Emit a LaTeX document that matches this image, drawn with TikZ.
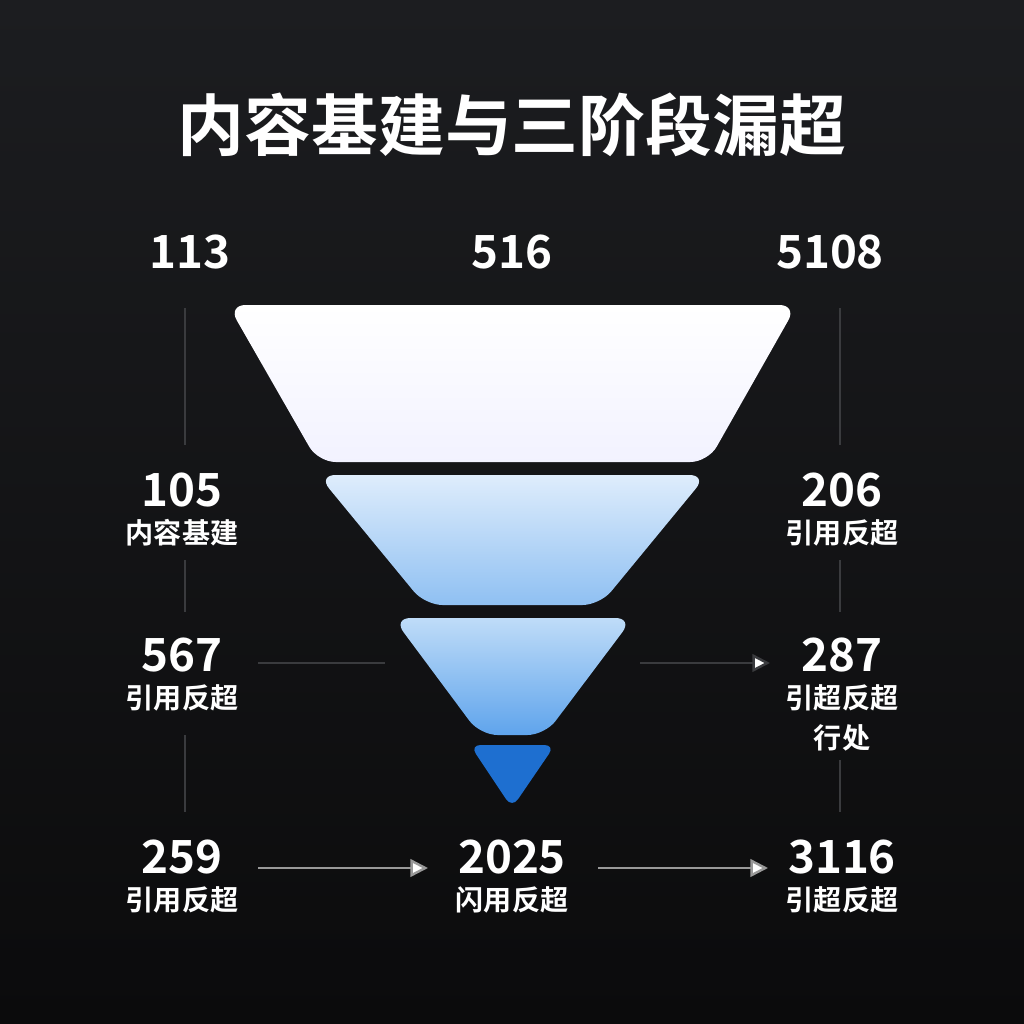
\documentclass[tikz,border=0pt]{standalone}
\usepackage{fontspec}
\setmainfont{Noto Sans CJK SC}[BoldFont={* Bold}]
\usetikzlibrary{arrows.meta}
\definecolor{bgA}{HTML}{1C1D20}
\definecolor{bgB}{HTML}{0B0B0C}
\definecolor{lineC}{HTML}{3A3B3E}
\definecolor{bl1}{HTML}{D6E8FB}
\definecolor{bl2}{HTML}{8FC0F2}
\definecolor{bl3}{HTML}{BFDCF8}
\definecolor{bl4}{HTML}{5FA4EC}
\definecolor{bl5}{HTML}{1E6FD0}
\begin{document}
\begin{tikzpicture}[x=0.01cm,y=-0.01cm,
  num/.style={text=white,font=\bfseries\fontsize{13}{14}\selectfont,inner sep=0},
  lab/.style={text=white,font=\bfseries\fontsize{8}{9}\selectfont,inner sep=0},
  vline/.style={draw=lineC,line width=0.6pt},
  arr/.style={draw=gray!80,line width=0.7pt,-{Triangle[length=5pt,width=5pt,fill=white]}},
  layer/.style={rounded corners=5pt}]
\path[top color=bgA,bottom color=bgB] (0,0) rectangle (1024,1024);
\useasboundingbox (0,0) rectangle (1024,1024);
\node[text=white,font=\bfseries\fontsize{19}{21}\selectfont] (title) at (512,125) {内容基建与三阶段漏超};
\node[num] (n1) at (190,252) {113};
\node[num] (n2) at (512,252) {516};
\node[num] (n3) at (830,252) {5108};
% funnel
\shade[layer,top color=white,bottom color=white!95!blue] (228,305) -- (797,305) -- (708,462) -- (318,462) -- cycle;
\shade[layer,top color=bl1!80!white,bottom color=bl2] (318,475) -- (707,475) -- (600,605) -- (425,605) -- cycle;
\shade[layer,top color=bl3,bottom color=bl4] (393,618) -- (633,618) -- (545,735) -- (480,735) -- cycle;
\fill[rounded corners=3pt,bl5] (470,745) -- (555,745) -- (512,808) -- cycle;
% vertical lines
\coordinate (l1a) at (185,308); \coordinate (l1b) at (185,445);
\coordinate (l2a) at (185,560); \coordinate (l2b) at (185,612);
\coordinate (l3a) at (185,735); \coordinate (l3b) at (185,812);
\coordinate (r1a) at (840,308); \coordinate (r1b) at (840,445);
\coordinate (r2a) at (840,560); \coordinate (r2b) at (840,612);
\coordinate (r3a) at (840,760); \coordinate (r3b) at (840,812);
\foreach \a/\b in {l1a/l1b,l2a/l2b,l3a/l3b,r1a/r1b,r2a/r2b,r3a/r3b} \draw[vline] (\a)--(\b);
% labels
\node[num] (a1) at (182,490) {105}; \node[lab] (b1) at (182,533) {内容基建};
\node[num] (a2) at (182,655) {567}; \node[lab] (b2) at (182,698) {引用反超};
\node[num] (a3) at (182,857) {259}; \node[lab] (b3) at (182,900) {引用反超};
\node[num] (c1) at (842,490) {206}; \node[lab] (d1) at (842,533) {引用反超};
\node[num] (c2) at (842,655) {287}; \node[lab] (d2) at (842,698) {引超反超};
\node[lab] (e2) at (842,738) {行处};
\node[num] (c3) at (842,857) {3116}; \node[lab] (d3) at (842,900) {引超反超};
\node[num] (m3) at (512,857) {2025}; \node[lab] (k3) at (512,900) {闪用反超};
% connectors
\coordinate (h1a) at (258,663); \coordinate (h1b) at (385,663);
\draw[draw=lineC,line width=0.6pt] (h1a)--(h1b);
\coordinate (h2a) at (640,663); \coordinate (h2b) at (770,663);
\coordinate (h3a) at (258,868); \coordinate (h3b) at (428,868);
\coordinate (h4a) at (598,868); \coordinate (h4b) at (768,868);
\draw[arr,draw=lineC] (h2a) -- (h2b);
\draw[arr] (h3a) -- (h3b);
\draw[arr] (h4a) -- (h4b);
\end{tikzpicture}
\end{document}
